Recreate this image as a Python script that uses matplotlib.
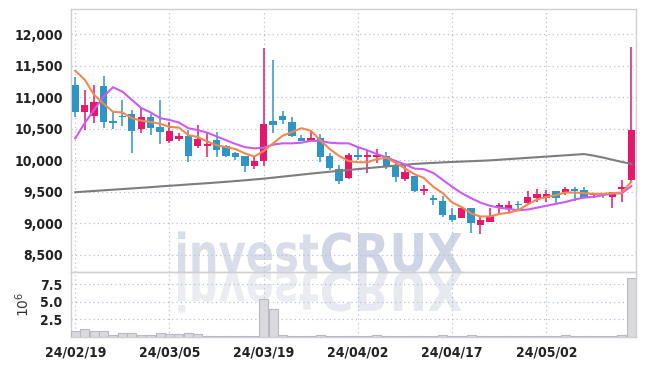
import matplotlib
matplotlib.use('Agg')
import matplotlib.pyplot as plt
import numpy as np
from matplotlib.ticker import FuncFormatter
from matplotlib.textpath import TextPath
from matplotlib.patches import PathPatch
from matplotlib.font_manager import FontProperties
from matplotlib.transforms import Affine2D

# daily candles (KRW), 60 trading days
dates = ['24/02/19', '24/03/05', '24/03/19', '24/04/02', '24/04/17', '24/05/02']
opens = [11200, 10760, 10710, 11180, 10630, 10700, 10740, 10490, 10680, 10530,
         10300, 10340, 10390, 10230, 10220, 10320, 10230, 10110, 10070, 9910,
         9990, 10630, 10700, 10610, 10360, 10310, 10360, 10070, 9870, 9720,
         10080, 10060, 10060, 10070, 9930, 9700, 9750, 9510, 9400, 9360,
         9140, 9080, 9240, 8970, 9030, 9240, 9230, 9310, 9330, 9410,
         9410, 9510, 9500, 9540, 9530, 9450, 9470, 9420, 9540, 9690]
highs = [11320, 11110, 11190, 11330, 10760, 10960, 10800, 10830, 10740, 10960,
         10610, 10430, 10480, 10560, 10430, 10450, 10240, 10140, 10070, 10050,
         11780, 11590, 10790, 10680, 10400, 10480, 10420, 10110, 9930, 10110,
         10220, 10150, 10180, 10140, 9980, 9920, 9760, 9610, 9450, 9430,
         9250, 9250, 9250, 9120, 9250, 9330, 9360, 9360, 9520, 9540,
         9530, 9510, 9580, 9570, 9570, 9490, 9480, 9500, 9690, 11800]
lows = [10690, 10480, 10600, 10520, 10490, 10550, 10110, 10440, 10400, 10260,
        10270, 10310, 9980, 10190, 10060, 10060, 10050, 10000, 9820, 9870,
        9910, 10440, 10580, 10370, 10300, 10300, 9970, 9840, 9630, 9700,
        10000, 9800, 9960, 9870, 9660, 9680, 9500, 9450, 9290, 9100,
        9030, 9080, 8850, 8840, 9030, 9140, 9160, 9210, 9290, 9340,
        9340, 9320, 9450, 9360, 9400, 9400, 9400, 9250, 9340, 9640]
closes = [10760, 10870, 10930, 10610, 10600, 10690, 10470, 10680, 10520, 10450,
          10470, 10390, 10070, 10340, 10260, 10160, 10070, 10060, 9910, 9990,
          10570, 10560, 10640, 10380, 10310, 10360, 10060, 9880, 9680, 10080,
          10060, 10080, 10080, 9900, 9740, 9820, 9520, 9540, 9370, 9140,
          9060, 9240, 9000, 9060, 9120, 9300, 9300, 9290, 9420, 9470,
          9470, 9400, 9550, 9520, 9410, 9480, 9450, 9500, 9580, 10480]
volume = [0.9, 1.18, 0.8, 0.8, 0.23, 0.51, 0.51, 0.32, 0.32, 0.6,
          0.37, 0.37, 0.6, 0.46, 0.2, 0.15, 0.15, 0.15, 0.15, 0.15,
          5.44, 4.0, 0.25, 0.15, 0.15, 0.15, 0.32, 0.2, 0.15, 0.15,
          0.15, 0.2, 0.32, 0.15, 0.15, 0.1, 0.1, 0.1, 0.15, 0.23,
          0.1, 0.1, 0.23, 0.1, 0.1, 0.1, 0.1, 0.1, 0.1, 0.1,
          0.1, 0.1, 0.23, 0.1, 0.1, 0.1, 0.1, 0.1, 0.28, 8.4]  # x 10^6

# moving averages
ma5 = [11420, 11280, 11040, 10900, 10770, 10760, 10670, 10630, 10610, 10580,
       10530, 10520, 10400, 10370, 10300, 10240, 10210, 10180, 10110, 10060,
       10150, 10270, 10390, 10450, 10510, 10470, 10320, 10180, 10070, 9990,
       9970, 9970, 10020, 10040, 9960, 9870, 9780, 9720, 9580, 9480,
       9330, 9260, 9160, 9110, 9110, 9150, 9170, 9210, 9300, 9380,
       9420, 9450, 9490, 9490, 9480, 9470, 9470, 9480, 9490, 9660]
ma10 = [10350, 10590, 10800, 11010, 11160, 11090, 10960, 10830, 10760, 10670,
        10640, 10600, 10510, 10480, 10440, 10380, 10320, 10260, 10210, 10190,
        10200, 10250, 10270, 10270, 10280, 10310, 10310, 10280, 10270, 10270,
        10210, 10160, 10100, 10050, 9990, 9935, 9870, 9860, 9800, 9690,
        9580, 9480, 9400, 9330, 9280, 9250, 9230, 9210, 9220, 9250,
        9280, 9310, 9340, 9380, 9410, 9420, 9450, 9470, 9480, 9590]
ma_long = [9495, 9505, 9515, 9525, 9535, 9545, 9555, 9565, 9575, 9587,
           9597, 9607, 9618, 9628, 9638, 9649, 9660, 9672, 9684, 9697,
           9710, 9726, 9742, 9758, 9774, 9790, 9805, 9820, 9834, 9848,
           9862, 9876, 9890, 9903, 9917, 9930, 9944, 9952, 9960, 9968,
           9975, 9981, 9987, 9993, 10000, 10010, 10020, 10030, 10040, 10050,
           10060, 10070, 10080, 10090, 10100, 10075, 10045, 10010, 9975, 9945]

up_col = '#e5186b'
down_col = '#2e95c6'
grid_col = '#b9c1d9'
label_fp = FontProperties(family='DejaVu Sans', weight='bold', stretch='condensed', size=10)

W, H = 645, 366
fig = plt.figure(figsize=(W / 100, H / 100), dpi=100)
fig.patch.set_facecolor('white')

# watermark with mirrored reflection, behind everything
def watermark(text, x0, x1, base, cap, color, flip=False):
    tp = TextPath((0, 0), text, size=1,
                  prop=FontProperties(family='DejaVu Sans', weight='bold'))
    ext = tp.get_extents()
    sx = (x1 - x0) / ext.width
    sy = cap / 0.73
    if flip:
        sy = -sy
    tr = Affine2D().translate(-ext.x0, 0).scale(sx, sy).translate(x0, H - base)
    tr = tr + Affine2D().scale(1 / W, 1 / H)
    p = tr.transform_path(tp)
    fig.add_artist(PathPatch(p, transform=fig.transFigure, facecolor=color,
                             edgecolor='none', zorder=-5))

watermark('invest', 178, 318, 272, 39, '#d8dde9')
watermark('CRUX', 322, 462, 272, 39, '#cfd5e6')
watermark('invest', 178, 318, 272, 39, '#eaecf2', flip=True)
watermark('CRUX', 322, 462, 272, 39, '#e6e9f0', flip=True)

ax = fig.add_axes([71 / W, 1 - 272 / H, 565 / W, 263 / H])
axv = fig.add_axes([71 / W, 1 - 337 / H, 565 / W, 65 / H], sharex=ax)
for a in (ax, axv):
    a.set_facecolor('none')
    for s in a.spines.values():
        s.set_color('#cfcfd4')
        s.set_linewidth(1.0)

x = np.arange(len(closes))
o = np.array(opens)
c = np.array(closes)
cols = [up_col if cc >= oo else down_col for oo, cc in zip(o, c)]
body = np.where(np.abs(c - o) < 20, 20, c - o)
body_bottom = np.where(np.abs(c - o) < 20, (o + c) / 2 - 10, o)

ax.vlines(x, lows, highs, colors=cols, linewidth=1.1, zorder=3)
ax.bar(x, body, bottom=body_bottom, width=0.78, color=cols, zorder=4)

ax.plot(x, ma_long, color='#7d7d80', linewidth=1.5, zorder=5)
ax.plot(x, ma10, color='#cb5cf0', linewidth=1.5, zorder=5)
ax.plot(x, ma5, color='#f0894f', linewidth=1.5, zorder=6)

axv.bar(x, volume, width=0.95, color='#d9d9de', edgecolor='#b9b9c2',
        linewidth=0.8, zorder=3)

ax.set_xlim(-0.45, 59.5)
ax.set_ylim(8230, 12400)
axv.set_ylim(0, 9.25)

ticks = np.arange(0, 60, 10)
ax.set_xticks(ticks)
axv.set_xticks(ticks)
axv.set_xticklabels(dates)
ax.tick_params(axis='x', labelbottom=False)

ax.set_yticks(np.arange(8500, 12001, 500))
ax.yaxis.set_major_formatter(FuncFormatter(lambda v, p: f'{int(v):,}'))
axv.set_yticks([2.5, 5.0, 7.5])
axv.set_yticklabels(['2.5', '5.0', '7.5'])
axv.set_ylabel(r'$10^6$', fontsize=10, color='#333333', labelpad=6)

for a in (ax, axv):
    a.tick_params(length=0, pad=6, colors='#222222')
    a.grid(True, color=grid_col, linestyle=(0, (1, 2.5)), linewidth=0.9)
    a.set_axisbelow(True)
    for lab in a.get_xticklabels() + a.get_yticklabels():
        lab.set_fontproperties(label_fp)

plt.savefig('out.png', dpi=100, facecolor='white')
